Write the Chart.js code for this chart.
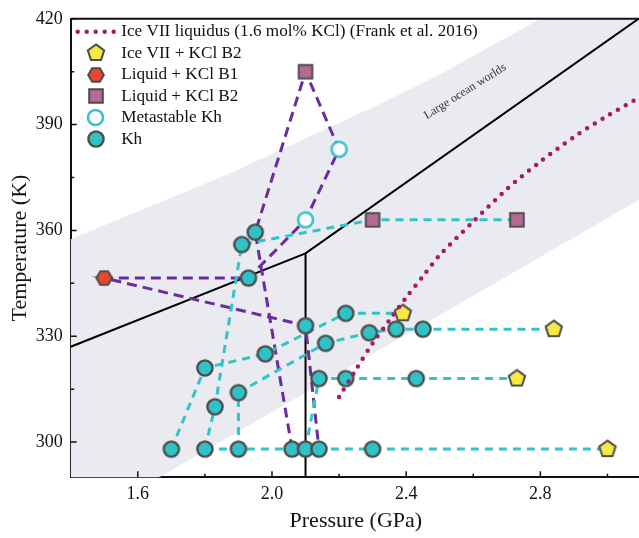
<!DOCTYPE html>
<html>
<head>
<meta charset="utf-8">
<script src="https://cdn.jsdelivr.net/npm/chart.js@4.4.1/dist/chart.umd.min.js"></script>
<style>
  html, body { margin: 0; padding: 0; background: #fff; overflow: hidden; }
</style>
</head>
<body>
<canvas id="chart" width="650" height="538"></canvas>
<script>
// axis ticks
const xTicks = [1.6, 2.0, 2.4, 2.8];
const xMinorTicks = [1.8, 2.2, 2.6, 3.0];
const yTicks = [300, 330, 360, 390, 420];
const yMinorTicks = [315, 345, 375, 405];

// Ice VII liquidus, 1.6 mol% KCl (Frank et al. 2016)
const liquidusP = [2.2, 2.25, 2.3, 2.35, 2.4, 2.45, 2.5, 2.6, 2.7, 2.8, 2.9, 3.0, 3.1];
const liquidusT = [312.8, 320.5, 328, 334.5, 341, 347, 353, 362.5, 371.7, 379.5, 386.5, 392.5, 398];

// "Large ocean worlds" band edges
const bandUpperP = [1.4, 1.87, 2.32, 2.5, 2.8, 3.1];
const bandUpperT = [357.5, 376, 395.8, 404.2, 420, 437];
const bandLowerP = [3.1, 1.4];
const bandLowerT = [369, 275.5];

// phase boundary (black)
const boundaryP = [1.4, 2.1, 3.1];
const boundaryT = [327, 353.5, 420.5];
const verticalP = [2.1, 2.1];
const verticalT = [353.5, 290];

// markers [P (GPa), T (K)]
const iceVII = [[2.39, 336.5], [2.84, 332], [2.73, 318], [3.0, 298]];
const liquidB1 = [[1.5, 346.5]];
const liquidB2 = [[2.1, 405], [2.3, 363], [2.73, 363]];
const metaKh = [[2.1, 363], [2.2, 383]];
const kh = [
  [1.7, 298], [1.8, 298], [1.9, 298], [2.06, 298], [2.1, 298], [2.14, 298], [2.3, 298],
  [1.8, 321], [1.83, 310], [1.9, 314], [1.98, 325], [2.1, 333], [2.16, 328], [2.14, 318],
  [2.22, 318], [2.22, 336.5], [2.29, 331], [2.37, 332], [2.45, 332], [2.43, 318],
  [1.91, 356], [1.95, 359.5], [1.93, 346.5]
];

// experimental paths
const tealRuns = [
  [[1.7, 298], [1.8, 321], [1.98, 325], [2.22, 336.5], [2.39, 336.5]],
  [[1.8, 298], [1.83, 310], [1.91, 356], [2.3, 363], [2.73, 363]],
  [[1.9, 298], [1.9, 314], [2.16, 328], [2.29, 331], [2.37, 332], [2.45, 332], [2.84, 332]],
  [[2.1, 298], [2.14, 318], [2.22, 318], [2.43, 318], [2.73, 318]],
  [[1.8, 298], [3.0, 298]]
];
const purpleRun = [
  [2.06, 298], [1.95, 359.5], [2.1, 405], [2.2, 383], [2.1, 363],
  [1.93, 346.5], [1.5, 346.5], [2.1, 333], [2.14, 298]
];

const FONT = "'Liberation Serif', 'Times New Roman', serif";
const TEAL = '#33c3c8';
const PURPLE = '#6a2c9e';
const LIQUIDUS = '#aa186b';
const EDGE = '#4d4d4d';

const pts = arr => arr.map(([x, y]) => ({ x, y }));
const zipPts = (xs, ys) => xs.map((x, i) => ({ x, y: ys[i] }));

function marker(shape, fill, stroke, lw, r) {
  const size = Math.ceil(2 * (r + lw)) + 2;
  const c = document.createElement('canvas');
  c.width = c.height = size;
  const g = c.getContext('2d');
  const m = size / 2;
  g.beginPath();
  if (shape === 'circle') {
    g.arc(m, m, r, 0, Math.PI * 2);
  } else if (shape === 'square') {
    g.rect(m - r, m - r, 2 * r, 2 * r);
  } else {
    const n = shape === 'pentagon' ? 5 : 6;
    const a0 = shape === 'pentagon' ? -Math.PI / 2 : 0;
    for (let i = 0; i < n; i++) {
      const a = a0 + i * 2 * Math.PI / n;
      const px = m + r * Math.cos(a), py = m + r * Math.sin(a);
      i ? g.lineTo(px, py) : g.moveTo(px, py);
    }
    g.closePath();
  }
  g.fillStyle = fill;
  g.fill();
  g.lineWidth = lw;
  g.strokeStyle = stroke;
  g.stroke();
  return c;
}

const pentagonImg = marker('pentagon', '#f6ea42', EDGE, 2, 8.6);
const hexagonImg = marker('hexagon', '#ee4530', EDGE, 2, 7.8);
const squareImg = marker('square', '#b36a93', EDGE, 2, 6.8);
const openCircleImg = marker('circle', '#ffffff', TEAL, 2.6, 7.5);
const khImg = marker('circle', '#2fc2c7', EDGE, 2.4, 7.6);

const lineSet = (data, color, width, dash, order) => ({
  label: '', data, showLine: true, borderColor: color, borderWidth: width,
  borderDash: dash, pointRadius: 0, fill: false, order
});

const decor = {
  id: 'decor',
  afterDraw(chart) {
    const { ctx, chartArea: a, scales: { x, y } } = chart;
    ctx.save();
    ctx.strokeStyle = '#111';
    ctx.lineWidth = 1.5;
    ctx.beginPath();
    xTicks.forEach(v => { const p = x.getPixelForValue(v); ctx.moveTo(p, a.bottom); ctx.lineTo(p, a.bottom - 6); });
    xMinorTicks.forEach(v => { const p = x.getPixelForValue(v); ctx.moveTo(p, a.bottom); ctx.lineTo(p, a.bottom - 3.5); });
    yTicks.forEach(v => { const p = y.getPixelForValue(v); ctx.moveTo(a.left, p); ctx.lineTo(a.left + 6, p); });
    yMinorTicks.forEach(v => { const p = y.getPixelForValue(v); ctx.moveTo(a.left, p); ctx.lineTo(a.left + 3.5, p); });
    ctx.stroke();
    ctx.lineWidth = 2;
    ctx.beginPath();
    ctx.moveTo(a.left, a.top);
    ctx.lineTo(a.right, a.top);
    ctx.stroke();

    // legend, top-left inside the plot
    ctx.font = '17.2px ' + FONT;
    ctx.textAlign = 'left';
    ctx.textBaseline = 'middle';
    ctx.fillStyle = '#111';
    chart.data.datasets.filter(d => d.label).forEach((d, i) => {
      const cy = a.top + 13 + i * 21.5;
      const cx = a.left + 25;
      if (d.pointStyle === 'line') {
        ctx.save();
        ctx.strokeStyle = d.borderColor;
        ctx.lineWidth = d.borderWidth;
        ctx.lineCap = 'round';
        ctx.setLineDash(d.borderDash);
        ctx.beginPath();
        ctx.moveTo(cx - 18, cy);
        ctx.lineTo(cx + 19, cy);
        ctx.stroke();
        ctx.restore();
      } else {
        const img = d.pointStyle;
        ctx.drawImage(img, Math.round(cx - img.width / 2), Math.round(cy - img.height / 2));
      }
      ctx.fillText(d.label, a.left + 50.5, cy);
    });

    // band label
    ctx.translate(x.getPixelForValue(2.576), y.getPixelForValue(399.4));
    ctx.rotate(-32 * Math.PI / 180);
    ctx.font = '12px ' + FONT;
    ctx.fillStyle = '#333';
    ctx.textAlign = 'center';
    ctx.fillText('Large ocean worlds', 0, 0);
    ctx.restore();
  }
};

new Chart(document.getElementById('chart'), {
  type: 'scatter',
  data: {
    datasets: [
      {
        label: 'Ice VII liquidus (1.6 mol% KCl) (Frank et al. 2016)',
        data: zipPts(liquidusP, liquidusT), showLine: true, borderColor: LIQUIDUS,
        borderWidth: 4.5, borderDash: [0, 9], borderCapStyle: 'round', tension: 0.3,
        pointRadius: 0, pointStyle: 'line', order: 0
      },
      { label: 'Ice VII + KCl B2', data: pts(iceVII), pointStyle: pentagonImg, pointRadius: 8, order: 1 },
      { label: 'Liquid + KCl B1', data: pts(liquidB1), pointStyle: hexagonImg, pointRadius: 8, order: 2 },
      { label: 'Liquid + KCl B2', data: pts(liquidB2), pointStyle: squareImg, pointRadius: 8, order: 3 },
      { label: 'Metastable Kh', data: pts(metaKh), pointStyle: openCircleImg, pointRadius: 8, order: 4 },
      { label: 'Kh', data: pts(kh), pointStyle: khImg, pointRadius: 8, order: 5 },
      ...tealRuns.map(r => lineSet(pts(r), TEAL, 3, [8, 6], 6)),
      lineSet(pts(purpleRun), PURPLE, 3, [10, 6], 6),
      lineSet(zipPts(boundaryP, boundaryT), '#000', 2, [], 7),
      lineSet(zipPts(verticalP, verticalT), '#000', 2, [], 7),
      {
        label: '', data: zipPts(bandUpperP.concat(bandLowerP), bandUpperT.concat(bandLowerT)),
        showLine: true, fill: 'shape', backgroundColor: '#e9ebf0', borderWidth: 0,
        pointRadius: 0, order: 8
      }
    ]
  },
  options: {
    responsive: false,
    animation: false,
    events: [],
    layout: { padding: { top: 16.7, right: 8, left: 0, bottom: 0 } },
    plugins: {
      tooltip: { enabled: false },
      legend: { display: false }
    },
    scales: {
      x: {
        type: 'linear', min: 1.4, max: 3.1,
        afterBuildTicks: s => { s.ticks = xTicks.map(v => ({ value: v })); },
        afterFit: s => { s.height = 60.7; },
        ticks: { color: '#111', padding: 6, font: { family: FONT, size: 18 }, maxRotation: 0, autoSkip: false, callback: v => v.toFixed(1) },
        grid: { display: false, drawTicks: false },
        border: { display: true, color: '#111', width: 2 },
        title: { display: true, text: 'Pressure (GPa)', color: '#111', font: { family: FONT, size: 22 }, padding: { top: 0, bottom: 4 } }
      },
      y: {
        type: 'linear', min: 290, max: 420,
        afterBuildTicks: s => { s.ticks = yTicks.map(v => ({ value: v })); },
        afterFit: s => { s.width = 70.7; },
        ticks: { color: '#111', padding: 8, font: { family: FONT, size: 18 }, autoSkip: false },
        grid: { display: false, drawTicks: false },
        border: { display: true, color: '#111', width: 2 },
        title: { display: true, text: 'Temperature (K)', color: '#111', font: { family: FONT, size: 22 }, padding: { top: 7, bottom: 0 } }
      }
    }
  },
  plugins: [decor]
});
</script>
</body>
</html>
